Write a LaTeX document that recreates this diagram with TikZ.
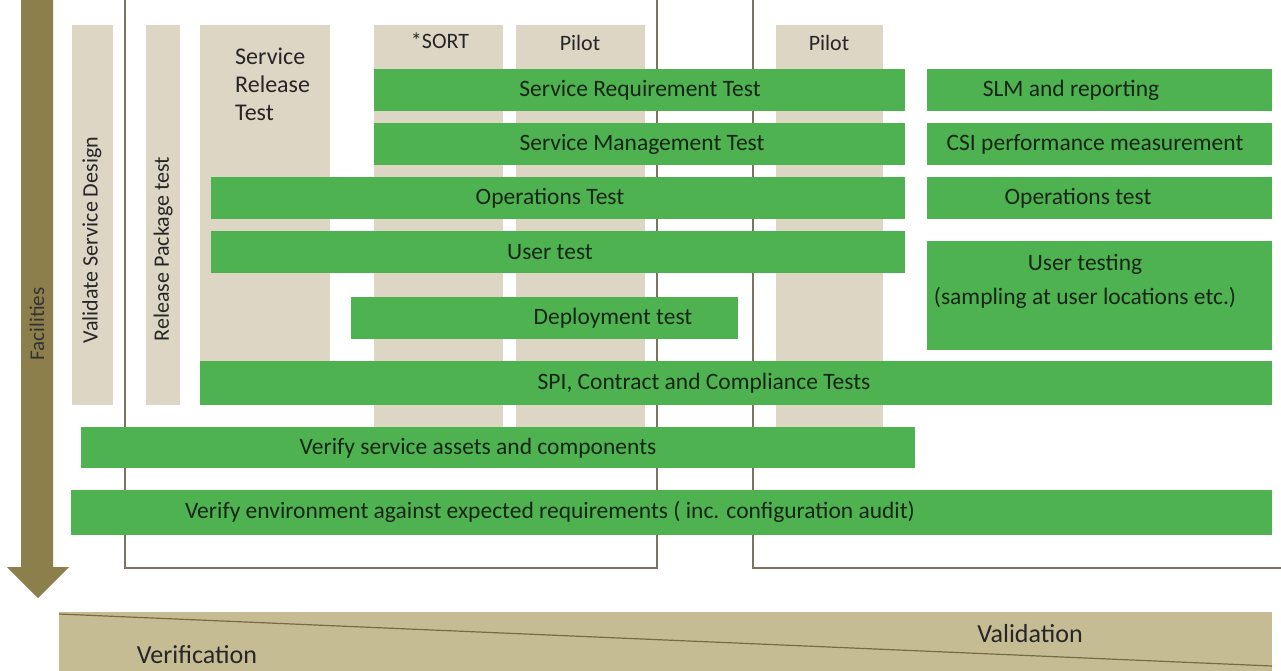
\documentclass[tikz,border=0pt]{standalone}
\usepackage{fontspec}
\setmainfont{Carlito}
\definecolor{gbar}{HTML}{4EB250}
\definecolor{gtext}{HTML}{162616}
\definecolor{beige}{HTML}{DDD6C5}
\definecolor{olive}{HTML}{8C7F4B}
\definecolor{wedge}{HTML}{C6BC94}
\definecolor{frameln}{HTML}{7A7560}
\tikzset{
  bar/.style={fill=gbar, draw=none, inner sep=0pt, anchor=north west},
  col/.style={fill=beige, draw=none, inner sep=0pt, anchor=north west},
  lbl/.style={text=gtext, font=\fontsize{23.5}{34}\selectfont, inner sep=0pt},
  hdr/.style={text=black!85, font=\fontsize{22}{28}\selectfont, inner sep=0pt},
  frm/.style={draw=frameln, line width=2.4pt},
}
\begin{document}
\begin{tikzpicture}[x=1pt,y=-1pt]
\useasboundingbox (0,0) rectangle (1281,671);
\fill[white] (0,0) rectangle (1281,671);
% frames
\draw[frm] (125,0) -- (125,568) -- (657,568) -- (657,0);
\draw[frm] (753,0) -- (753,568) -- (1281,568);
% facilities arrow
\fill[olive] (21,0) -- (53,0) -- (53,567) -- (69,567) -- (38,598) -- (7,567) -- (21,567) -- cycle;
\node[hdr, rotate=90, text=black!80, font=\fontsize{21}{24}\selectfont] (fac) at (37,324) {Facilities};
% bottom wedge
\fill[wedge] (59,612) rectangle (1272,671);
\draw[olive!85!black, line width=1.2pt] (59,614) -- (1272,666);
\node[text=black!85, font=\fontsize{26}{30}\selectfont, inner sep=0pt] (valid) at (1030,634) {Validation};
\node[text=black!85, font=\fontsize{26}{30}\selectfont, inner sep=0pt] (verif) at (197,655) {Verification};
% beige columns
\node[col, minimum width=41pt, minimum height=380pt] (cvsd) at (72,25) {};
\node[col, minimum width=34pt, minimum height=380pt] (crpt) at (146,25) {};
\node[col, minimum width=130pt, minimum height=340pt] (csrt) at (200,25) {};
\node[col, minimum width=129pt, minimum height=402pt] (csort) at (374,25) {};
\node[col, minimum width=129pt, minimum height=402pt] (cpil1) at (516,25) {};
\node[col, minimum width=107pt, minimum height=402pt] (cpil2) at (776,25) {};
\node[hdr, rotate=90] (tvsd) at (92,240) {Validate Service Design};
\node[hdr, rotate=90] (trpt) at (163,249) {Release Package test};
\node[hdr, align=left, anchor=north west, font=\fontsize{24}{28}\selectfont] (tsrt) at (235,48) {Service\\Release\\Test};
\node[hdr] (tsort) at (440,41) {*SORT};
\node[hdr] (tpil1) at (580,43) {Pilot};
\node[hdr] (tpil2) at (829,43) {Pilot};
% green bars
\node[bar, minimum width=531pt, minimum height=42pt] (b1) at (374,69) {};
\node[lbl] (t1) at (640,90) {Service Requirement Test};
\node[bar, minimum width=345pt, minimum height=42pt] (b2) at (927,69) {};
\node[lbl] (t2) at (1071,90) {SLM and reporting};
\node[bar, minimum width=531pt, minimum height=42pt] (b3) at (374,123) {};
\node[lbl] (t3) at (642,144) {Service Management Test};
\node[bar, minimum width=345pt, minimum height=42pt] (b4) at (927,123) {};
\node[lbl] (t4) at (1095,144) {CSI performance measurement};
\node[bar, minimum width=694pt, minimum height=42pt] (b5) at (211,177) {};
\node[lbl] (t5) at (550,198) {Operations Test};
\node[bar, minimum width=345pt, minimum height=42pt] (b6) at (927,177) {};
\node[lbl] (t6) at (1078,198) {Operations test};
\node[bar, minimum width=694pt, minimum height=42pt] (b7) at (211,231) {};
\node[lbl] (t7) at (550,252) {User test};
\node[bar, minimum width=345pt, minimum height=109pt] (b8) at (927,241) {};
\node[lbl, align=center] (t8) at (1085,281) {User testing\\(sampling at user locations etc.)};
\node[bar, minimum width=387pt, minimum height=42pt] (b9) at (351,297) {};
\node[lbl] (t9) at (613,318) {Deployment test};
\node[bar, minimum width=1072pt, minimum height=44pt] (b10) at (200,361) {};
\node[lbl] (t10) at (704,383) {SPI, Contract and Compliance Tests};
\node[bar, minimum width=834pt, minimum height=41pt] (b11) at (81,427) {};
\node[lbl] (t11) at (478,448) {Verify service assets and components};
\node[bar, minimum width=1201pt, minimum height=45pt] (b12) at (71,490) {};
\node[lbl] (t12) at (550,512) {Verify environment against expected requirements ( inc. configuration audit)};
\end{tikzpicture}
\end{document}
